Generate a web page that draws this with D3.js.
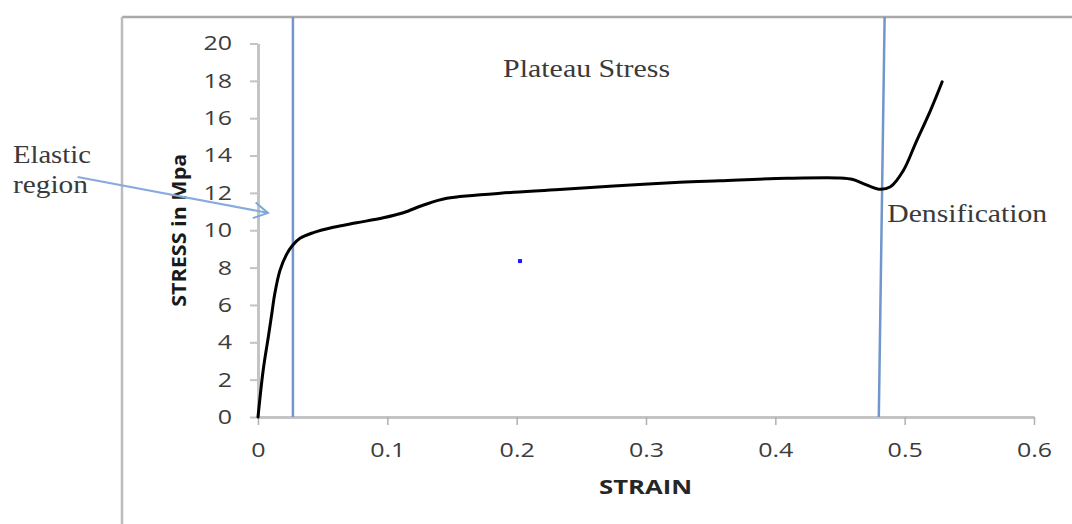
<!DOCTYPE html>
<html>
<head>
<meta charset="utf-8">
<script src="https://cdn.jsdelivr.net/npm/d3@7"></script>
<style>
  html, body { margin: 0; padding: 0; background: #fff; }
  svg { display: block; }
</style>
</head>
<body>
<svg id="chart" width="1072" height="524"></svg>
<script>
// ---- data ----
const strain = [0, 0.004, 0.008, 0.0106, 0.0131, 0.017, 0.0222, 0.0268, 0.0325, 0.0428, 0.0582,
  0.0763, 0.0969, 0.1124, 0.128, 0.146, 0.1975, 0.236, 0.275, 0.326, 0.357, 0.409, 0.45,
  0.46, 0.468, 0.48, 0.489, 0.499, 0.509, 0.52, 0.529];
const stress = [0, 2.5, 4.3, 5.5, 6.65, 7.85, 8.72, 9.2, 9.57, 9.87, 10.16,
  10.4, 10.67, 10.94, 11.35, 11.71, 12.03, 12.19, 12.37, 12.57, 12.65, 12.78, 12.8,
  12.72, 12.5, 12.2, 12.33, 13.2, 14.75, 16.42, 17.95];

const xTicks = [0, 0.1, 0.2, 0.3, 0.4, 0.5, 0.6];
const xTickLabels = ["0", "0.1", "0.2", "0.3", "0.4", "0.5", "0.6"];
const yTicks = [0, 2, 4, 6, 8, 10, 12, 14, 16, 18, 20];
const yTickLabels = ["0", "2", "4", "6", "8", "10", "12", "14", "16", "18", "20"];

const xTitle = "STRAIN";
const yTitle = "STRESS in Mpa";

// region boundary lines (strain at bottom, strain at top)
const boundaryBottom = [0.027, 0.480];
const boundaryTop = [0.027, 0.4845];

// stray point in the plot
const dotStrain = [0.2026];
const dotStress = [8.35];

// annotation labels (text, strain, stress)
const noteText = ["Elastic", "region", "Plateau Stress", "Densification"];
const noteStrain = [-0.1895, -0.1895, 0.1895, 0.4865];
const noteStress = [13.6, 12.0, 18.2, 10.45];

// arrow of "Elastic region" (from -> to)
const arrowFrom = [-0.1395, 12.85];
const arrowTo = [0.0077, 10.93];

// ---- layout ----
const svg = d3.select("#chart");
const pLeft = 258, pRight = 1034, pTop = 43.5, pBottom = 417;
const frameLeft = 122, frameTop = 17;

const x = d3.scaleLinear().domain([0, 0.6]).range([pLeft, pRight]);
const y = d3.scaleLinear().domain([0, 20]).range([pBottom, pTop]);

svg.append("rect").attr("width", 1072).attr("height", 524).attr("fill", "#fff");

// outer frame (top and left edges visible)
svg.append("line").attr("x1", frameLeft).attr("x2", 1072).attr("y1", frameTop).attr("y2", frameTop)
  .attr("stroke", "#a9a9a9").attr("stroke-width", 2.5);
svg.append("line").attr("x1", frameLeft).attr("x2", frameLeft).attr("y1", frameTop).attr("y2", 524)
  .attr("stroke", "#bdbdbd").attr("stroke-width", 2.5);

function stretch(sel, k) {
  sel.each(function () {
    const w = this.getComputedTextLength();
    this.setAttribute("textLength", w * k);
    this.setAttribute("lengthAdjust", "spacingAndGlyphs");
  });
}

// y axis
const yAxis = svg.append("g").attr("transform", `translate(${pLeft},0)`)
  .call(d3.axisLeft(y).tickValues(yTicks).tickFormat((d, i) => yTickLabels[i])
    .tickSize(8).tickPadding(18).tickSizeOuter(0));
yAxis.select(".domain").attr("stroke", "#c4c4c4").attr("stroke-width", 3);
yAxis.selectAll(".tick line").attr("stroke", "#c4c4c4").attr("stroke-width", 2);
yAxis.selectAll(".tick text").attr("font-family", "'Open Sans', sans-serif").attr("font-size", 20)
  .attr("fill", "#3c3c3c");
stretch(yAxis.selectAll(".tick text"), 1.25);

// x axis
const xAxis = svg.append("g").attr("transform", `translate(0,${pBottom})`)
  .call(d3.axisBottom(x).tickValues(xTicks).tickFormat((d, i) => xTickLabels[i])
    .tickSize(8).tickPadding(18).tickSizeOuter(0));
xAxis.select(".domain").attr("stroke", "#c4c4c4").attr("stroke-width", 3);
xAxis.selectAll(".tick line").attr("stroke", "#b0b0b0").attr("stroke-width", 1.5);
xAxis.selectAll(".tick text").attr("font-family", "'Open Sans', sans-serif").attr("font-size", 20)
  .attr("fill", "#3c3c3c");
stretch(xAxis.selectAll(".tick text"), 1.25);

// axis titles
svg.append("text").text(xTitle)
  .attr("x", (pLeft + pRight) / 2 - 0.5).attr("y", 494)
  .attr("text-anchor", "middle").attr("font-family", "'Open Sans', sans-serif")
  .attr("font-weight", "bold").attr("font-size", 20).attr("fill", "#262626")
  .attr("textLength", 93).attr("lengthAdjust", "spacingAndGlyphs");
svg.append("text").text(yTitle)
  .attr("transform", `translate(186,${(pTop + pBottom) / 2}) rotate(-90)`)
  .attr("text-anchor", "middle").attr("font-family", "'Open Sans', sans-serif")
  .attr("font-weight", "bold").attr("font-size", 20).attr("fill", "#1a1a1a")
  .attr("textLength", 153).attr("lengthAdjust", "spacingAndGlyphs");

// boundary lines
const yTopFrame = y.invert(frameTop);
svg.append("g").selectAll("line").data(boundaryBottom).join("line")
  .attr("x1", d => x(d)).attr("y1", y(0))
  .attr("x2", (d, i) => x(boundaryTop[i])).attr("y2", y(yTopFrame))
  .attr("stroke", "#7096cb").attr("stroke-width", 2.5);

// curve
const pts = strain.map((s, i) => [s, stress[i]]);
svg.append("path").datum(pts)
  .attr("d", d3.line().x(d => x(d[0])).y(d => y(d[1])).curve(d3.curveCatmullRom.alpha(0.5)))
  .attr("fill", "none").attr("stroke", "#000").attr("stroke-width", 3)
  .attr("stroke-linejoin", "round").attr("stroke-linecap", "round");

// stray dot
svg.append("g").selectAll("rect").data(dotStrain).join("rect")
  .attr("x", d => x(d) - 2).attr("y", (d, i) => y(dotStress[i]) - 2)
  .attr("width", 4).attr("height", 4).attr("fill", "#1a1aff");

// arrow
const defs = svg.append("defs");
defs.append("marker").attr("id", "arr").attr("viewBox", "0 0 20 20")
  .attr("refX", 18).attr("refY", 10).attr("markerWidth", 20).attr("markerHeight", 20)
  .attr("markerUnits", "userSpaceOnUse").attr("orient", "auto")
  .append("path").attr("d", "M4,2 L18,10 L4,18").attr("fill", "none")
  .attr("stroke", "#7fa6da").attr("stroke-width", 2);
svg.append("line")
  .attr("x1", x(arrowFrom[0])).attr("y1", y(arrowFrom[1]))
  .attr("x2", x(arrowTo[0])).attr("y2", y(arrowTo[1]))
  .attr("stroke", "#86abdc").attr("stroke-width", 2.2).attr("marker-end", "url(#arr)");

// annotation text
const noteWidths = [78, 75, 167, 160];
svg.append("g").selectAll("text").data(noteText).join("text")
  .text(d => d)
  .attr("x", (d, i) => x(noteStrain[i])).attr("y", (d, i) => y(noteStress[i]))
  .attr("font-family", "'Liberation Serif', 'Times New Roman', serif")
  .attr("font-size", 25).attr("fill", "#3a3a3a")
  .attr("textLength", (d, i) => noteWidths[i]).attr("lengthAdjust", "spacingAndGlyphs");
</script>
</body>
</html>
